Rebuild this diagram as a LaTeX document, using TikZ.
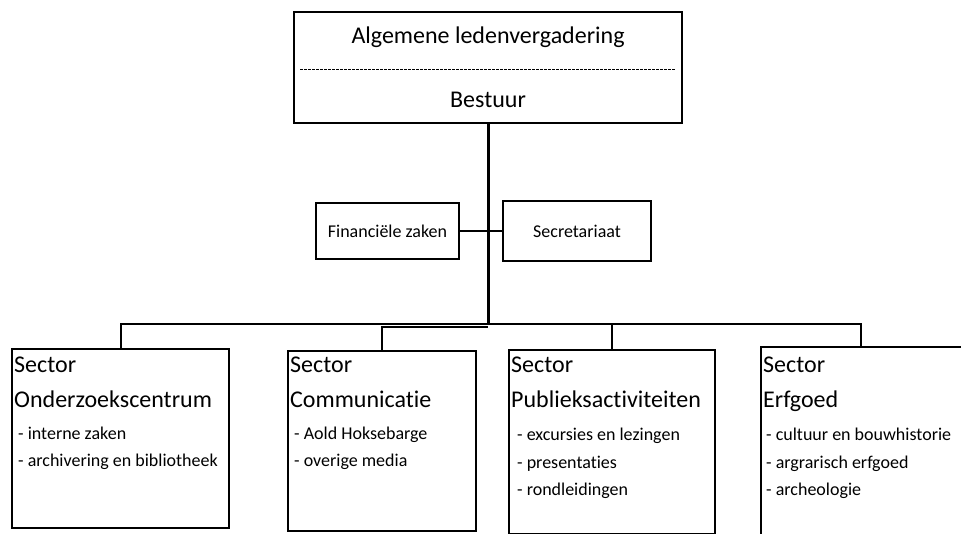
\documentclass[tikz,border=0pt]{standalone}
\usepackage{fontspec}
\setmainfont[Ligatures=NoCommon]{Carlito}
\begin{document}
\begin{tikzpicture}[x=1pt,y=-1pt,
  box/.style={draw,line width=1.5pt,inner sep=0pt,outer sep=0pt,anchor=north west},
  big/.style={inner sep=0pt,anchor=base west,font=\fontsize{24}{28}\selectfont},
  item/.style={inner sep=0pt,anchor=base west,font=\fontsize{18}{22}\selectfont},
  link/.style={line width=2pt},
  trunk/.style={line width=3pt}]
\useasboundingbox (0,0) rectangle (961,533);
% top box
\node[box,minimum width=388pt,minimum height=111pt] (top) at (294,12) {};
\node[big,anchor=base] (alv) at (488,43) {Algemene ledenvergadering};
\coordinate (dl) at (300,69);
\coordinate (dr) at (676,69);
\draw[line width=0.6pt,dash pattern=on 2.5pt off 1.5pt] (dl) -- (dr);
\node[big,anchor=base] (bestuur) at (488,107) {Bestuur};
% side boxes
\node[box,minimum width=143pt,minimum height=56pt] (fin) at (316,203) {};
\node[item,anchor=center] (fintxt) at (fin.center) {Financiële zaken};
\node[box,minimum width=148pt,minimum height=60pt] (sec) at (503,201) {};
\node[item,anchor=center] (sectxt) at (sec.center) {Secretariaat};
\draw[link] (fin.east) -- (sec.west);
% trunk
\coordinate (bus) at (488,324);
\draw[trunk] (top.south) -- (bus);
% sector boxes
\node[box,minimum width=217pt,minimum height=179pt] (b1) at (12,349) {};
\node[box,minimum width=188pt,minimum height=180pt] (b2) at (288,351) {};
\node[box,minimum width=206pt,minimum height=184pt] (b3) at (509,350) {};
\node[box,minimum width=240pt,minimum height=200pt] (b4) at (761,347) {};
\coordinate (b4top) at (861,347);
% bus lines
\draw[link] (b1.north) -- (b1.north |- bus) -- (bus);
\draw[link] (b2.north) -- ++(0,-24) coordinate (b2j) -- (b2j -| bus);
\draw[link] (bus) -- (bus -| b4top) -- (b4top);
\draw[link] (b3.north |- bus) -- (b3.north);
% texts box 1
\node[big] (s1a) at (14,372) {Sector};
\node[big] (s1b) at (14,407) {Onderzoekscentrum};
\node[item] (s1c) at (18,439) {- interne zaken};
\node[item] (s1d) at (18,466) {- archivering en bibliotheek};
% box 2
\node[big] (s2a) at (290,372) {Sector};
\node[big] (s2b) at (290,407) {Communicatie};
\node[item] (s2c) at (294,439) {- Aold Hoksebarge};
\node[item] (s2d) at (294,466) {- overige media};
% box 3
\node[big] (s3a) at (511,372) {Sector};
\node[big] (s3b) at (511,407) {Publieksactiviteiten};
\node[item] (s3c) at (517,440) {- excursies en lezingen};
\node[item] (s3d) at (517,468) {- presentaties};
\node[item] (s3e) at (517,495) {- rondleidingen};
% box 4
\node[big] (s4a) at (763,372) {Sector};
\node[big] (s4b) at (763,407) {Erfgoed};
\node[item] (s4c) at (766,440) {- cultuur en bouwhistorie};
\node[item] (s4d) at (766,468) {- argrarisch erfgoed};
\node[item] (s4e) at (766,495) {- archeologie};
\end{tikzpicture}
\end{document}
